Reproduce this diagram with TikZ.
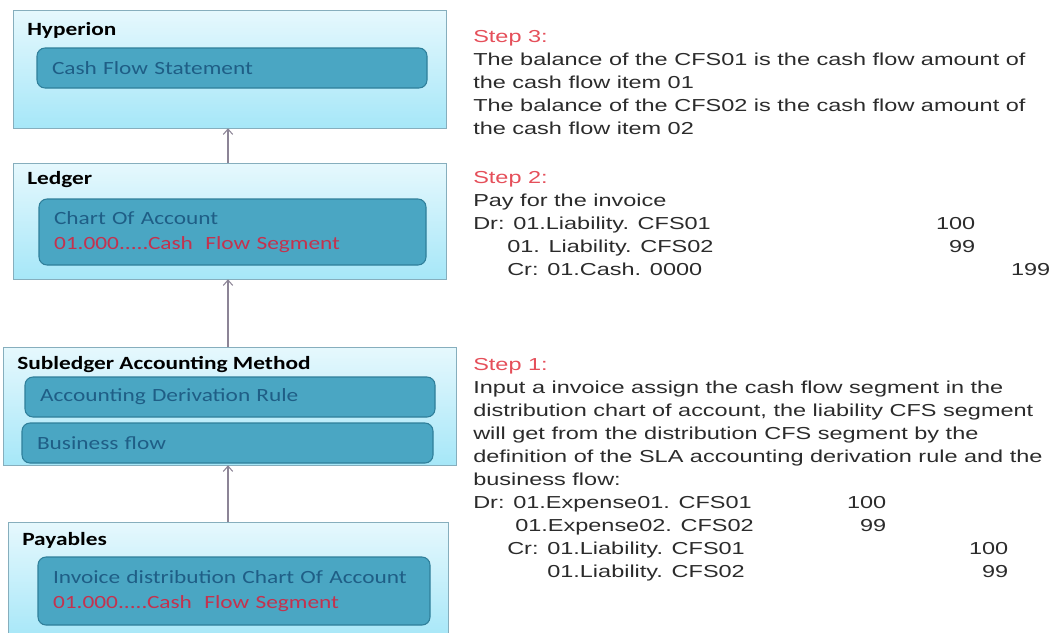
\documentclass[tikz,border=0pt]{standalone}
\usepackage{fontspec}
\setmainfont{Liberation Sans}[FakeStretch=1.355]
\newfontfamily\boxfont{Carlito}[FakeStretch=1.25]
\usetikzlibrary{positioning, arrows.meta}

\definecolor{outertop}{HTML}{E6F8FD}
\definecolor{outerbot}{HTML}{A6E7F8}
\definecolor{outerline}{HTML}{86AEBD}
\definecolor{innerfill}{HTML}{4AA6C3}
\definecolor{innerline}{HTML}{2F7F9A}
\definecolor{innertext}{HTML}{1F5E86}
\definecolor{segred}{HTML}{C4324E}
\definecolor{stepred}{HTML}{E54F5A}
\definecolor{bodygray}{HTML}{2B2B2B}
\definecolor{arrowgray}{HTML}{8C8496}

% journal line: text left, amount right-aligned at a given width
\newcommand\jline[3]{\makebox[#1][l]{#2\hfill#3}}

\tikzset{
  outerbox/.style={draw=outerline, top color=outertop, bottom color=outerbot, inner sep=0pt},
  title/.style={anchor=west, inner sep=0pt, text=black, font=\boxfont\bfseries\fontsize{14}{18}\selectfont},
  innerbox/.style={draw=innerline, fill=innerfill, rounded corners=6pt, line width=0.8pt, text=innertext,
    align=left, inner xsep=11.25pt, inner ysep=0pt, font=\boxfont\fontsize{14}{18.75}\selectfont},
  steptext/.style={anchor=north west, align=left, inner sep=0pt, text=bodygray, font=\fontsize{13}{17.25}\selectfont},
  link/.style={-{Straight Barb[length=4pt, width=7pt]}, arrowgray, line width=0.8pt}
}

\begin{document}
\begin{tikzpicture}[x=0.75pt, y=-0.75pt]
    \useasboundingbox (0,0) rectangle (1052,632);
    \clip (0,0) rectangle (1052,632);

    % Hyperion
    \node[outerbox, minimum width=433*0.75pt, minimum height=118*0.75pt] (hyperion) at (229.5,69) {};
    \node[title] (hyperiontitle) at (27,30) {Hyperion};
    \node[innerbox, text width=270pt, minimum height=30pt] (cfs) at (232,68) {Cash Flow Statement};

    % Ledger
    \node[outerbox, minimum width=433*0.75pt, minimum height=116*0.75pt] (ledger) at (229.5,221) {};
    \node[title] (ledgertitle) at (27,180) {Ledger};
    \node[innerbox, text width=267.75pt, minimum height=49.5pt] (coa) at (232.5,232)
        {Chart Of Account\\\textcolor{segred}{01.000.....Cash\ \ Flow Segment}};

    % Subledger Accounting Method
    \node[outerbox, minimum width=453*0.75pt, minimum height=118*0.75pt] (sla) at (229.5,406) {};
    \node[title] (slatitle) at (17,365) {Subledger Accounting Method};
    \node[innerbox, text width=285pt, minimum height=30pt] (adr) at (230,397) {Accounting Derivation Rule};
    \node[innerbox, text width=285.75pt, minimum height=30pt] (bf) at (227.5,443) {Business flow};

    % Payables
    \node[outerbox, minimum width=440*0.75pt, minimum height=118*0.75pt] (payables) at (228,581) {};
    \node[title] (payablestitle) at (22,540) {Payables};
    \node[innerbox, text width=271.5pt, minimum height=51pt] (inv) at (234,591)
        {Invoice distribution Chart Of Account\\\textcolor{segred}{01.000.....Cash\ \ Flow Segment}};

    % flow upwards
    \draw[link] (payables.north) -- (payables.north |- sla.south);
    \draw[link] (payables.north |- sla.north) -- (payables.north |- ledger.south);
    \draw[link] (payables.north |- ledger.north) -- (payables.north |- hyperion.south);

    % steps
    \node[steptext] (step3) at (473,30) {\textcolor{stepred}{Step 3:}\\
        The balance of the CFS01 is the cash flow amount of\\
        the cash flow item 01\\
        The balance of the CFS02 is the cash flow amount of\\
        the cash flow item 02};
    \node[steptext] (step2) at (473,171) {\textcolor{stepred}{Step 2:}\\
        Pay for the invoice\\
        \jline{376.5pt}{Dr: 01.Liability. CFS01}{100}\\
        \jline{376.5pt}{\hspace*{25.5pt}01. Liability. CFS02}{99}\\
        \jline{432.75pt}{\hspace*{25.5pt}Cr: 01.Cash. 0000}{199}};
    \node[steptext] (step1) at (473,358) {\textcolor{stepred}{Step 1:}\\
        Input a invoice assign the cash flow segment in the\\
        distribution chart of account, the liability CFS segment\\
        will get from the distribution CFS segment by the\\
        definition of the SLA accounting derivation rule and the\\
        business flow:\\
        \jline{309.75pt}{Dr: 01.Expense01. CFS01}{100}\\
        \jline{309.75pt}{\hspace*{31.5pt}01.Expense02. CFS02}{99}\\
        \jline{401.25pt}{\hspace*{25.5pt}Cr: 01.Liability. CFS01}{100}\\
        \jline{401.25pt}{\hspace*{55.5pt}01.Liability. CFS02}{99}};
\end{tikzpicture}
\end{document}
